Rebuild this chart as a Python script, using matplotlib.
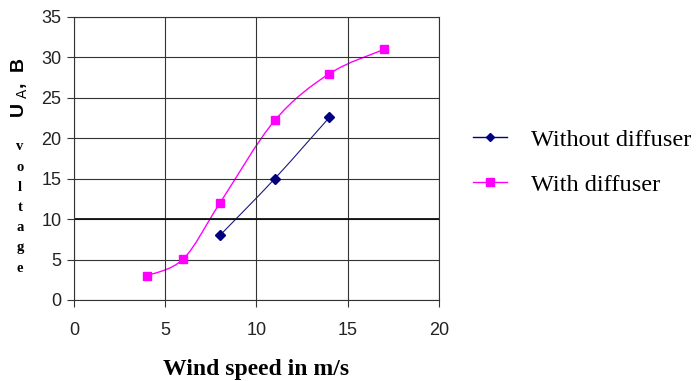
import numpy as np
import matplotlib
matplotlib.use("Agg")
import matplotlib.pyplot as plt
from matplotlib.path import Path
from matplotlib.patches import PathPatch

# data
speed_with = [4, 6, 8, 11, 14, 17]
volt_with = [3.0, 5.1, 12.0, 22.2, 28.0, 31.0]
speed_without = [8, 11, 14]
volt_without = [8.0, 15.0, 22.6]
labels = ["Without diffuser", "With diffuser"]


def smooth_path(x, y, t=1 / 6):
    # Catmull-Rom style bezier through the points (like Excel smoothed lines)
    pts = np.column_stack([x, y]).astype(float)
    verts = [pts[0]]
    codes = [Path.MOVETO]
    for i in range(len(pts) - 1):
        p0 = pts[i - 1] if i > 0 else pts[i]
        p1, p2 = pts[i], pts[i + 1]
        p3 = pts[i + 2] if i + 2 < len(pts) else pts[i + 1]
        verts += [p1 + (p2 - p0) * t, p2 - (p3 - p1) * t, p2]
        codes += [Path.CURVE4] * 3
    return Path(verts, codes)


fig = plt.figure(figsize=(7, 3.81), dpi=100)
ax = fig.add_axes([0.1057, 0.2126, 0.5214, 0.7428])

ax.add_patch(PathPatch(smooth_path(speed_with, volt_with), fill=False,
                       edgecolor="#ff00ff", lw=1.0))
ax.plot(speed_with, volt_with, ls="none", marker="s", ms=6, color="#ff00ff")
ax.add_patch(PathPatch(smooth_path(speed_without, volt_without), fill=False,
                       edgecolor="#1a1a80", lw=0.8))
ax.plot(speed_without, volt_without, ls="none", marker="D", ms=4.8, color="#000080")

ax.set_xlim(0, 20)
ax.set_ylim(0, 35)
ax.set_xticks(range(0, 21, 5))
ax.set_yticks(range(0, 36, 5))
ax.grid(True, color="#333333", lw=0.8)
ax.axhline(10, color="#111111", lw=1.3)
for s in ax.spines.values():
    s.set_color("#333333")
    s.set_linewidth(0.8)
ax.tick_params(direction="out", length=5, color="#333333",
               labelsize=13, labelcolor="#222222")
ax.tick_params(axis="y", pad=4)
ax.tick_params(axis="x", pad=11)
for lab in ax.get_xticklabels() + ax.get_yticklabels():
    lab.set_family("Liberation Sans")

ax.set_xlabel("Wind speed in m/s", family="Liberation Serif", weight="bold",
              fontsize=17, labelpad=14)

# y label: rotated "U_A, B" and stacked "voltage"
fig.text(20 / 700, 1 - 88 / 381, r"U $_{\rm A}$,  B", rotation=90, ha="center",
         va="center", family="Liberation Sans", weight="bold", fontsize=14)
for i, ch in enumerate("voltage"):
    fig.text(20 / 700, 1 - (147 + i * 20.2) / 381, ch, ha="center", va="center",
             family="Liberation Serif", weight="bold", fontsize=10.5)

h1, = ax.plot([], [], color="#000080", marker="D", ms=4, lw=1.0)
h2, = ax.plot([], [], color="#ff00ff", marker="s", ms=5.5, lw=1.0)
fig.legend([h1, h2], labels, loc="upper left", bbox_to_anchor=(0.644, 0.72),
           frameon=False, handlelength=1.4, handletextpad=1.0, labelspacing=0.95,
           prop={"family": "Liberation Serif", "size": 17.5})

fig.savefig("out.png", dpi=100)
